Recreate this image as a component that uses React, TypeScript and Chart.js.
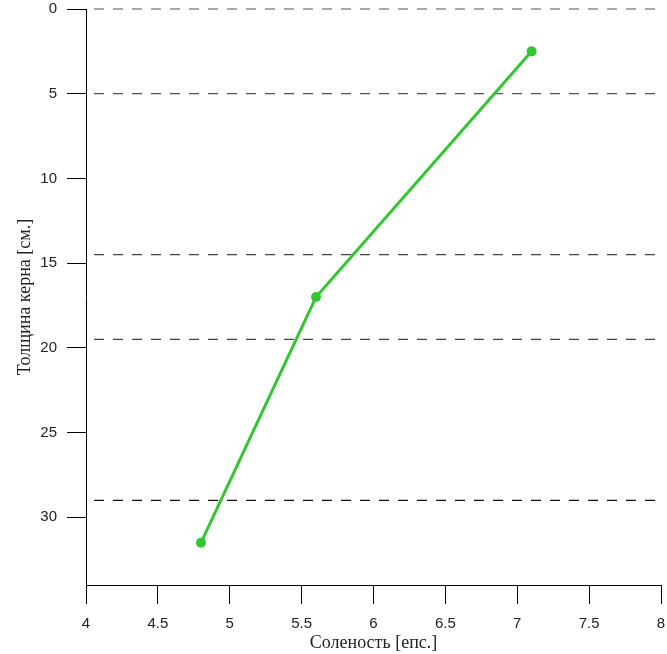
import React, { useEffect, useRef } from "react";
import { Chart, registerables } from "chart.js";

Chart.register(...registerables);

const salinity = [4.8, 5.6, 7.1];
const depth = [31.5, 17, 2.5];
const boundaryDepths = [0, 5, 14.5, 19.5, 29];
const boundaryColors = ["#555555", "#555555", "#444444", "#444444", "#111111"];
const xTitle = "Соленость [епс.]";
const yTitle = "Толщина керна [см.]";

export default function App() {
  const ref = useRef<HTMLCanvasElement | null>(null);
  useEffect(() => {
    document.body.style.margin = "0";
    const green = "#33c633";
    const datasets: any[] = [
      {
        data: salinity.map((x, i) => ({ x, y: depth[i] })),
        borderColor: green,
        backgroundColor: green,
        borderWidth: 3,
        pointRadius: 5,
        pointBorderWidth: 0,
        pointBackgroundColor: green,
        showLine: true,
        fill: false,
      },
      ...boundaryDepths.map((d, i) => ({
        data: [
          { x: 4, y: d },
          { x: 8, y: d },
        ],
        borderColor: boundaryColors[i],
        borderWidth: 1.2,
        borderDash: [10, 9],
        borderDashOffset: -8,
        pointRadius: 0,
        showLine: true,
        fill: false,
        clip: false,
      })),
    ];
    const fmt = (v: any) => String(v);
    const chart = new Chart(ref.current!, {
      type: "scatter",
      data: { datasets },
      options: {
        animation: false,
        responsive: true,
        maintainAspectRatio: false,
        layout: { padding: 0 },
        plugins: { legend: { display: false }, tooltip: { enabled: false } },
        scales: {
          x: {
            type: "linear",
            min: 4,
            max: 8,
            ticks: {
              stepSize: 0.5,
              includeBounds: false,
              padding: 11,
              color: "#222",
              font: { family: "Liberation Sans", size: 15 },
              callback: fmt,
            },
            grid: { drawOnChartArea: false, drawTicks: true, tickLength: 19, color: "#000" },
            border: { display: true, color: "#000", width: 1 },
            title: {
              display: true,
              text: xTitle,
              color: "#222",
              font: { family: "Liberation Serif", size: 18 },
              padding: { top: 0, bottom: 0 },
            },
            afterFit: (s: any) => {
              s.height = 69;
              s.paddingLeft = 0;
              s.paddingRight = 6;
            },
          },
          y: {
            type: "linear",
            reverse: true,
            min: 0,
            max: 34,
            ticks: {
              stepSize: 5,
              includeBounds: false,
              padding: 10,
              color: "#222",
              font: { family: "Liberation Sans", size: 15 },
              callback: fmt,
            },
            grid: { drawOnChartArea: false, drawTicks: true, tickLength: 19, color: "#000" },
            border: { display: true, color: "#000", width: 1 },
            title: {
              display: true,
              text: yTitle,
              color: "#222",
              font: { family: "Liberation Serif", size: 18 },
              padding: { top: 14, bottom: 0 },
            },
            afterFit: (s: any) => {
              s.width = 86;
              s.paddingTop = 9;
              s.paddingBottom = 0;
            },
          },
        },
      },
    });
    return () => chart.destroy();
  }, []);
  return (
    <div style={{ width: 667, height: 654, position: "relative" }}>
      <canvas ref={ref} />
    </div>
  );
}
